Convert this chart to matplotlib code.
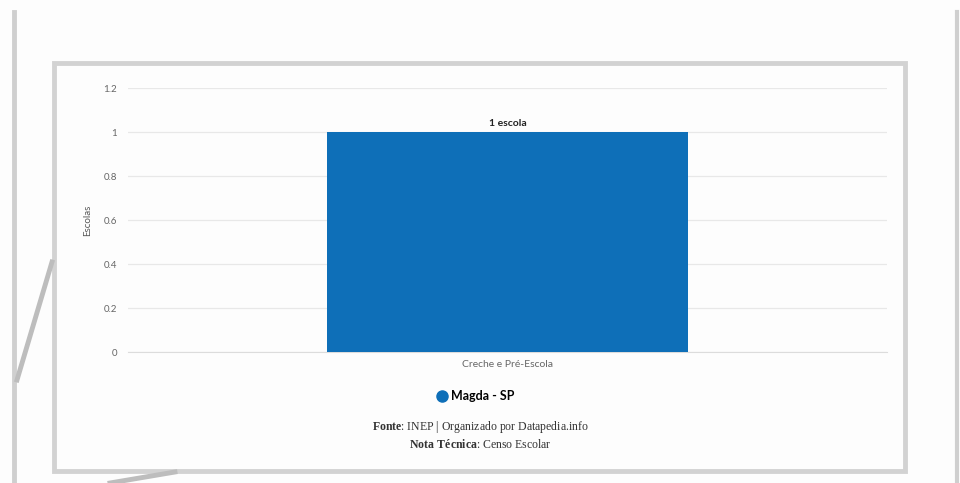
import matplotlib
matplotlib.use("Agg")
import matplotlib.pyplot as plt
from matplotlib.patches import Rectangle
from matplotlib.lines import Line2D

plt.rcParams["mathtext.fontset"] = "custom"
plt.rcParams["mathtext.rm"] = "Liberation Serif"
plt.rcParams["mathtext.bf"] = "Liberation Serif:bold"

# Dados
categorias = ["Creche e Pré-Escola"]
escolas = [1]
rotulos = ["1 escola"]
serie = "Magda - SP"
yticks = [0, 0.2, 0.4, 0.6, 0.8, 1, 1.2]
ytick_labels = ["0", "0.2", "0.4", "0.6", "0.8", "1", "1.2"]

W, H = 960, 483
fig = plt.figure(figsize=(W / 100, H / 100), dpi=100, facecolor="#fdfdfd")

def fx(px):
    return px / W

def fy(py):
    return 1 - py / H

# Moldura e linhas decorativas
fig.add_artist(Line2D([fx(14), fx(14)], [fy(12), fy(483)], color="#cfcfcf", lw=3.5))
fig.add_artist(Line2D([fx(957), fx(957)], [fy(12), fy(483)], color="#cfcfcf", lw=3))
fig.add_artist(Line2D([fx(52), fx(17)], [fy(262), fy(380)], color="#bdbdbd", lw=3.5))
fig.add_artist(Line2D([fx(110), fx(175)], [fy(483), fy(472)], color="#bdbdbd", lw=3.5))
fig.add_artist(Rectangle((fx(54), fy(471)), fx(851), (471 - 63) / H,
                         transform=fig.transFigure, fill=False,
                         edgecolor="#d2d2d2", lw=3.5))

ax = fig.add_axes([fx(128), fy(352), fx(759), (352 - 88) / H])
ax.set_facecolor("none")

barras = ax.bar(range(len(categorias)), escolas, width=0.476, color="#0e6fb8", zorder=3)
for b, txt in zip(barras, rotulos):
    ax.text(b.get_x() + b.get_width() / 2, b.get_height() + 0.02, txt,
            ha="center", va="bottom", fontsize=7.5, fontweight="bold",
            family="Lato", color="#222222")

ax.set_xlim(-0.5, 0.5)
ax.set_ylim(0, 1.2)
ax.set_yticks(yticks)
ax.set_yticklabels(ytick_labels, family="Lato", fontsize=7, color="#666666")
ax.set_xticks(range(len(categorias)))
ax.set_xticklabels(categorias, family="Lato", fontsize=7.5, color="#666666")
ax.tick_params(axis="y", length=0, pad=8)
ax.tick_params(axis="x", length=0, pad=6)
ax.grid(axis="y", color="#e8e8e8", lw=0.9, zorder=0)
for s in ["top", "right", "left"]:
    ax.spines[s].set_visible(False)
ax.spines["bottom"].set_color("#dcdcdc")
ax.set_ylabel("Escolas", family="Lato", fontsize=7, color="#555555", labelpad=8)

# Legenda
marcador = Line2D([], [], marker="o", markersize=8, color="#0e6fb8", linestyle="none")
ax.legend([marcador], [serie], loc="center", bbox_to_anchor=(fx(476), fy(396)),
          bbox_transform=fig.transFigure, frameon=False, handlelength=0.8,
          handletextpad=0.3, prop={"family": "Lato", "weight": "bold", "size": 9})

# Fonte
fig.text(0.5, fy(427), r"$\mathbf{Fonte}$: INEP | Organizado por Datapedia.info",
         ha="center", va="center", family="Liberation Serif", fontsize=8.5, color="#333333")
fig.text(0.5, fy(444), r"$\mathbf{Nota\ Técnica}$: Censo Escolar",
         ha="center", va="center", family="Liberation Serif", fontsize=8.5, color="#333333")

fig.savefig("out.png", dpi=100, facecolor=fig.get_facecolor())
